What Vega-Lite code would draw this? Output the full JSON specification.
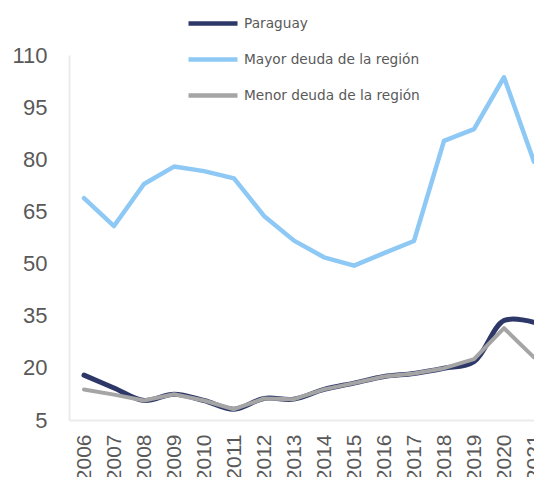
{
  "$schema": "https://vega.github.io/schema/vega-lite/v6.json",
  "autosize": {"type": "none"},
  "padding": {"left": 69, "top": 55, "right": 0, "bottom": 57},
  "width": 465,
  "height": 365,
  "background": "white",
  "config": {"view": {"stroke": null}},
  "data": {"values": [
    {"anio": "2006", "serie": "Paraguay", "valor": 17.9},
    {"anio": "2007", "serie": "Paraguay", "valor": 14.2},
    {"anio": "2008", "serie": "Paraguay", "valor": 10.6},
    {"anio": "2009", "serie": "Paraguay", "valor": 12.4},
    {"anio": "2010", "serie": "Paraguay", "valor": 10.6},
    {"anio": "2011", "serie": "Paraguay", "valor": 8.1},
    {"anio": "2012", "serie": "Paraguay", "valor": 11.2},
    {"anio": "2013", "serie": "Paraguay", "valor": 11.0},
    {"anio": "2014", "serie": "Paraguay", "valor": 13.8},
    {"anio": "2015", "serie": "Paraguay", "valor": 15.6},
    {"anio": "2016", "serie": "Paraguay", "valor": 17.5},
    {"anio": "2017", "serie": "Paraguay", "valor": 18.4},
    {"anio": "2018", "serie": "Paraguay", "valor": 19.9},
    {"anio": "2019", "serie": "Paraguay", "valor": 21.8},
    {"anio": "2020", "serie": "Paraguay", "valor": 33.6},
    {"anio": "2021", "serie": "Paraguay", "valor": 33.1},
    {"anio": "2006", "serie": "Mayor deuda de la región", "valor": 68.8},
    {"anio": "2007", "serie": "Mayor deuda de la región", "valor": 60.8},
    {"anio": "2008", "serie": "Mayor deuda de la región", "valor": 72.9},
    {"anio": "2009", "serie": "Mayor deuda de la región", "valor": 77.9},
    {"anio": "2010", "serie": "Mayor deuda de la región", "valor": 76.6},
    {"anio": "2011", "serie": "Mayor deuda de la región", "valor": 74.5},
    {"anio": "2012", "serie": "Mayor deuda de la región", "valor": 63.7},
    {"anio": "2013", "serie": "Mayor deuda de la región", "valor": 56.6},
    {"anio": "2014", "serie": "Mayor deuda de la región", "valor": 51.8},
    {"anio": "2015", "serie": "Mayor deuda de la región", "valor": 49.4},
    {"anio": "2016", "serie": "Mayor deuda de la región", "valor": 53.0},
    {"anio": "2017", "serie": "Mayor deuda de la región", "valor": 56.5},
    {"anio": "2018", "serie": "Mayor deuda de la región", "valor": 85.3},
    {"anio": "2019", "serie": "Mayor deuda de la región", "valor": 88.7},
    {"anio": "2020", "serie": "Mayor deuda de la región", "valor": 103.6},
    {"anio": "2021", "serie": "Mayor deuda de la región", "valor": 79.3},
    {"anio": "2006", "serie": "Menor deuda de la región", "valor": 13.8},
    {"anio": "2007", "serie": "Menor deuda de la región", "valor": 12.3},
    {"anio": "2008", "serie": "Menor deuda de la región", "valor": 10.6},
    {"anio": "2009", "serie": "Menor deuda de la región", "valor": 12.4},
    {"anio": "2010", "serie": "Menor deuda de la región", "valor": 10.6},
    {"anio": "2011", "serie": "Menor deuda de la región", "valor": 8.1},
    {"anio": "2012", "serie": "Menor deuda de la región", "valor": 11.2},
    {"anio": "2013", "serie": "Menor deuda de la región", "valor": 11.0},
    {"anio": "2014", "serie": "Menor deuda de la región", "valor": 13.8},
    {"anio": "2015", "serie": "Menor deuda de la región", "valor": 15.6},
    {"anio": "2016", "serie": "Menor deuda de la región", "valor": 17.5},
    {"anio": "2017", "serie": "Menor deuda de la región", "valor": 18.4},
    {"anio": "2018", "serie": "Menor deuda de la región", "valor": 19.9},
    {"anio": "2019", "serie": "Menor deuda de la región", "valor": 22.5},
    {"anio": "2020", "serie": "Menor deuda de la región", "valor": 31.4},
    {"anio": "2021", "serie": "Menor deuda de la región", "valor": 23.0}
  ]},
  "encoding": {
    "x": {
      "field": "anio", "type": "ordinal",
      "scale": {"type": "point", "padding": 0.25, "align": 1},
      "axis": {
        "title": null, "labelAngle": -90, "labelAlign": "right", "labelBaseline": "middle",
        "labelFont": "Liberation Sans", "labelFontSize": 21, "labelColor": "#595959",
        "labelPadding": 14, "ticks": false, "grid": false,
        "domainColor": "#EBEBEB", "domainWidth": 2, "labelOverlap": false
      }
    },
    "y": {
      "field": "valor", "type": "quantitative",
      "scale": {"domain": [5, 110], "nice": false, "zero": false},
      "axis": {
        "title": null, "values": [5, 20, 35, 50, 65, 80, 95, 110],
        "labelFont": "Liberation Sans", "labelFontSize": 22, "labelColor": "#595959",
        "labelPadding": 22, "ticks": false, "grid": false,
        "domainColor": "#EBEBEB", "domainWidth": 2
      }
    },
    "color": {
      "field": "serie", "type": "nominal",
      "scale": {
        "domain": ["Paraguay", "Mayor deuda de la región", "Menor deuda de la región"],
        "range": ["#2E3868", "#8EC9F5", "#A5A5A5"]
      },
      "legend": {
        "title": null, "orient": "none", "legendX": 117, "legendY": -58.5,
        "direction": "vertical", "symbolType": "stroke", "symbolSize": 2401,
        "symbolStrokeWidth": 4.5, "labelFont": "DejaVu Sans", "labelFontSize": 13.7,
        "labelColor": "#595959", "rowPadding": -30, "labelOffset": 4, "padding": 0,
        "labelLimit": 400
      }
    }
  },
  "layer": [
    {
      "transform": [{"filter": "datum.serie === 'Mayor deuda de la región'"}],
      "mark": {"type": "line", "strokeWidth": 4.5, "strokeJoin": "round", "strokeCap": "round"}
    },
    {
      "transform": [{"filter": "datum.serie === 'Paraguay'"}],
      "mark": {"type": "line", "strokeWidth": 5, "interpolate": "catmull-rom", "strokeCap": "round"}
    },
    {
      "transform": [{"filter": "datum.serie === 'Menor deuda de la región'"}],
      "mark": {"type": "line", "strokeWidth": 4, "strokeJoin": "round", "strokeCap": "round"}
    }
  ]
}
